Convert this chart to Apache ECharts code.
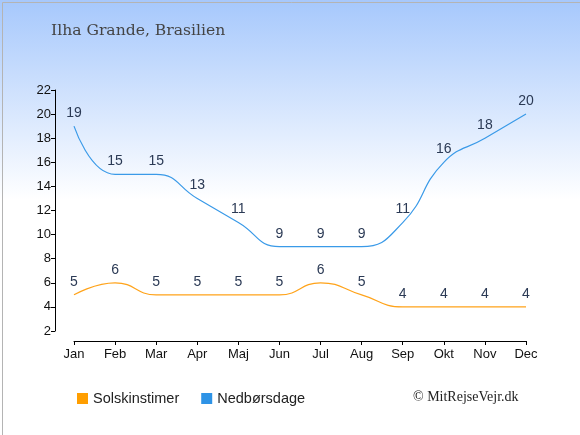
<!DOCTYPE html>
<html>
<head>
<meta charset="utf-8">
<script src="https://cdn.jsdelivr.net/npm/echarts@6/dist/echarts.min.js"></script>
<style>
  html, body { margin: 0; padding: 0; }
  #chart { width: 580px; height: 435px; }
</style>
</head>
<body>
<div id="chart"></div>
<script>
// Ilha Grande - solskinstimer og nedbørsdage pr. måned
const months = ['Jan', 'Feb', 'Mar', 'Apr', 'Maj', 'Jun', 'Jul', 'Aug', 'Sep', 'Okt', 'Nov', 'Dec'];
const solskinstimer = [5, 6, 5, 5, 5, 5, 6, 5, 4, 4, 4, 4];
const nedboersdage = [19, 15, 15, 13, 11, 9, 9, 9, 11, 16, 18, 20];

const chart = echarts.init(document.getElementById('chart'));

const labelStyle = { show: true, position: 'top', distance: 6, color: '#2b3a55', fontSize: 14, fontFamily: 'Liberation Sans' };

chart.setOption({
    animation: false,
    backgroundColor: {
        type: 'linear', x: 0, y: 0, x2: 0, y2: 1,
        colorStops: [
            { offset: 0, color: '#a6c8fc' },
            { offset: 0.46, color: '#ffffff' },
            { offset: 1, color: '#ffffff' }
        ]
    },
    title: {
        text: 'Ilha Grande, Brasilien',
        left: 51, top: 23, padding: 0,
        textStyle: { fontFamily: 'DejaVu Serif', fontWeight: 'normal', fontSize: 15.6, color: '#444' }
    },
    grid: { left: 74, right: 54, top: 90, bottom: 104 },
    legend: {
        left: 77, top: 391, padding: 0,
        itemWidth: 11, itemHeight: 11, itemGap: 22,
        icon: 'rect',
        textStyle: { fontFamily: 'Liberation Sans', fontSize: 14.5, color: '#222' },
        data: ['Solskinstimer', 'Nedbørsdage']
    },
    graphic: [
        {
            type: 'text', left: 413, top: 390,
            style: { text: '© MitRejseVejr.dk', font: '14px "Liberation Serif"', fill: '#222' }
        },
        {
            type: 'rect', left: 0, top: 0, silent: true,
            shape: { width: 579, height: 434 },
            style: { fill: 'none', stroke: '#b4b4b4', lineWidth: 1 }
        }
    ],
    xAxis: {
        type: 'category',
        data: months,
        boundaryGap: false,
        offset: 10,
        axisLine: { lineStyle: { color: '#000', width: 1 } },
        axisTick: { alignWithLabel: true, length: 4, lineStyle: { color: '#000' } },
        axisLabel: { color: '#111', fontSize: 13, fontFamily: 'Liberation Sans', margin: 7 },
        splitLine: { show: false }
    },
    yAxis: {
        type: 'value',
        min: 2, max: 22, interval: 2,
        offset: 19,
        axisLine: { show: true, lineStyle: { color: '#000', width: 1 } },
        axisTick: { show: true, length: 4, lineStyle: { color: '#000' } },
        axisLabel: { color: '#111', fontSize: 13, fontFamily: 'Liberation Sans', margin: 4 },
        splitLine: { show: false }
    },
    series: [
        {
            name: 'Solskinstimer',
            type: 'line',
            smooth: 0.5,
            data: solskinstimer,
            color: '#ff9e00',
            symbol: 'circle',
            symbolSize: 0,
            lineStyle: { width: 1.2, color: '#ffa31a' },
            label: labelStyle
        },
        {
            name: 'Nedbørsdage',
            type: 'line',
            smooth: 0.5,
            data: nedboersdage,
            color: '#2e93e6',
            symbol: 'circle',
            symbolSize: 0,
            lineStyle: { width: 1.2, color: '#3a9ae8' },
            label: labelStyle
        }
    ]
});
</script>
</body>
</html>
